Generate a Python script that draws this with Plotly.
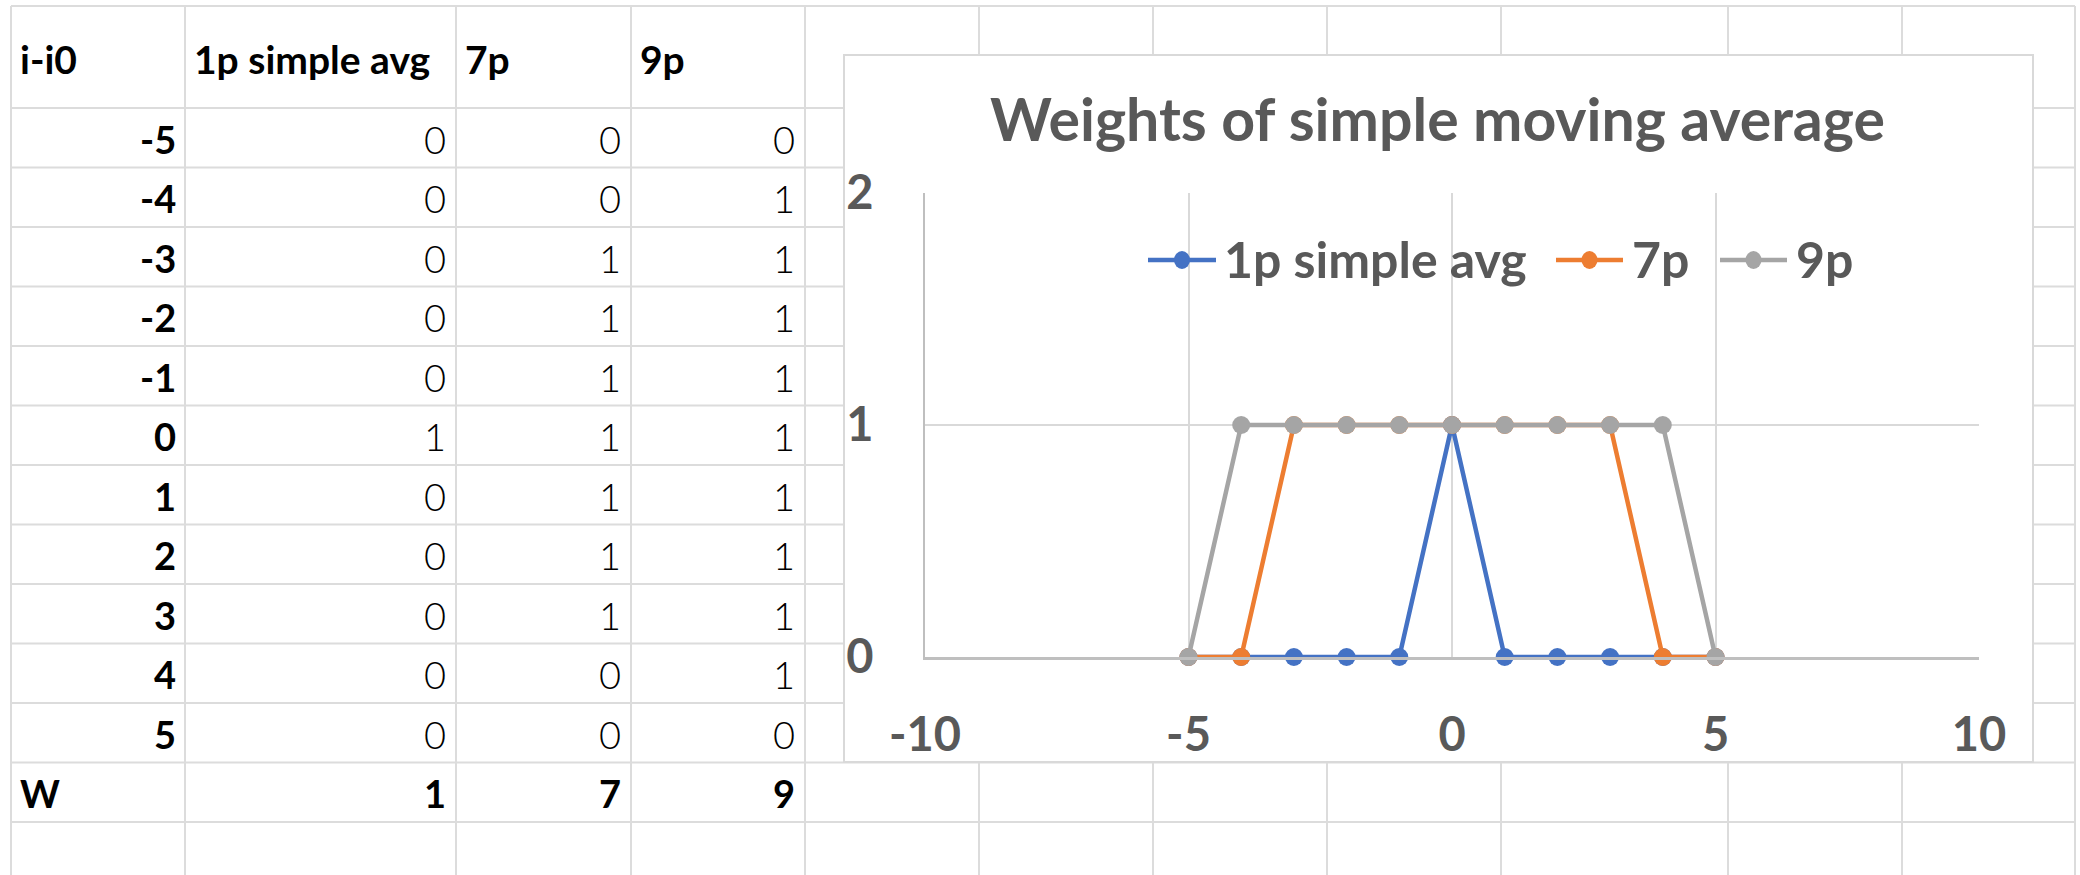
import plotly.graph_objects as go

# ---------------- data ----------------
offsets = [-5, -4, -3, -2, -1, 0, 1, 2, 3, 4, 5]
series_names = ["1p simple avg", "7p", "9p"]
w_1p = [0, 0, 0, 0, 0, 1, 0, 0, 0, 0, 0]
w_7p = [0, 0, 1, 1, 1, 1, 1, 1, 1, 0, 0]
w_9p = [0, 1, 1, 1, 1, 1, 1, 1, 1, 1, 0]
header_first = "i-i0"
total_label = "W"
title_text = "Weights of simple moving average"
x_ticks = [-10, -5, 0, 5, 10]
y_ticks = [0, 1, 2]

series_values = [w_1p, w_7p, w_9p]
colors = ["#4472C4", "#ED7D31", "#A5A5A5"]

# ---------------- layout geometry (pixels) ----------------
W, H = 2080, 875
PL, PR, PT, PB = 925, 1979, 193, 657


def px(x):
    return (x - PL) / (PR - PL)


def py(y):
    return (PB - y) / (PB - PT)


col_x = [11, 185, 456, 631, 805, 979, 1153, 1327, 1501, 1728, 1902, 2075]
row_y = [6, 108] + [108 + 59.5 * k for k in range(1, 13)]
GRID = "#DCDCDC"

shapes = []
for x in col_x:
    shapes.append(dict(type="line", xref="paper", yref="paper",
                       x0=px(x), x1=px(x), y0=py(row_y[0]), y1=py(H + 5),
                       line=dict(color=GRID, width=2), layer="below"))
for y in row_y:
    shapes.append(dict(type="line", xref="paper", yref="paper",
                       x0=px(col_x[0]), x1=px(col_x[-1]), y0=py(y), y1=py(y),
                       line=dict(color=GRID, width=2), layer="below"))
# chart box
shapes.append(dict(type="rect", xref="paper", yref="paper",
                   x0=px(844), x1=px(2033), y0=py(55), y1=py(762),
                   fillcolor="white", line=dict(color="#D9D9D9", width=2),
                   layer="below"))

annotations = []
FONT = "Lato, Carlito, Calibri, sans-serif"


def cell_text(text, x, y, anchor, bold, size):
    annotations.append(dict(
        text=str(text), xref="paper", yref="paper", x=px(x), y=py(y),
        xanchor=anchor, yanchor="middle", showarrow=False,
        font=dict(family=FONT, size=size, color="#000000",
                  weight=700 if bold else 300)))


def row_center(i):
    return (row_y[i] + row_y[i + 1]) / 2


# header row
hdr = [header_first] + series_names
for j, t in enumerate(hdr):
    cell_text(t, col_x[j] + 7, row_center(0) + 2, "left", True, 39)

# body rows
for k, off in enumerate(offsets):
    yc = row_center(k + 1) + 1
    cell_text(off, col_x[1] - 7, yc, "right", True, 38)
    for j, vals in enumerate(series_values):
        cell_text(vals[k], col_x[j + 2] - 8, yc, "right", False, 38)

# total row
yc = row_center(len(offsets) + 1) + 1
cell_text(total_label, col_x[0] + 7, yc, "left", True, 38)
for j, vals in enumerate(series_values):
    cell_text(sum(vals), col_x[j + 2] - 8, yc, "right", True, 38)

# chart title
annotations.append(dict(
    text=title_text, xref="paper", yref="paper", x=px(1437), y=py(118),
    xanchor="center", yanchor="middle", showarrow=False,
    font=dict(family=FONT, size=59, color="#595959", weight=700)))

# custom legend
leg_y = 260
leg_items = [(1148, 1216, 1222), (1556, 1623, 1630), (1720, 1787, 1794)]
for (lx0, lx1, tx), name, c in zip(leg_items, series_names, colors):
    shapes.append(dict(type="line", xref="paper", yref="paper",
                       x0=px(lx0), x1=px(lx1), y0=py(leg_y), y1=py(leg_y),
                       line=dict(color=c, width=4.5), layer="above"))
    cx = (lx0 + lx1) / 2
    shapes.append(dict(type="circle", xref="paper", yref="paper",
                       x0=px(cx - 8), x1=px(cx + 8),
                       y0=py(leg_y + 9), y1=py(leg_y - 9),
                       fillcolor=c, line=dict(color=c, width=0), layer="above"))
    annotations.append(dict(
        text=name, xref="paper", yref="paper", x=px(tx), y=py(leg_y - 1),
        xanchor="left", yanchor="middle", showarrow=False,
        font=dict(family=FONT, size=50, color="#595959", weight=700)))

# ---------------- figure ----------------
fig = go.Figure()
for name, vals, c in zip(series_names, series_values, colors):
    fig.add_trace(go.Scatter(
        x=offsets, y=vals, name=name, mode="lines+markers",
        line=dict(color=c, width=4.5),
        marker=dict(color=c, size=18, line=dict(width=0)),
        showlegend=False, cliponaxis=False))

fig.update_layout(
    width=W, height=H,
    margin=dict(l=PL, r=W - PR, t=PT, b=H - PB, autoexpand=False),
    paper_bgcolor="white", plot_bgcolor="rgba(0,0,0,0)",
    shapes=shapes, annotations=annotations, showlegend=False,
    font=dict(family=FONT),
)
fig.update_xaxes(
    range=[-10, 10], tickvals=x_ticks, ticktext=[str(v) for v in x_ticks],
    showgrid=True, gridcolor="#D9D9D9", gridwidth=2,
    zeroline=False, showline=True, linecolor="#BFBFBF", linewidth=3,
    ticks="", ticklabelstandoff=35,
    tickfont=dict(family=FONT, size=47, color="#595959", weight=700),
)
fig.update_yaxes(
    range=[0, 2], tickvals=y_ticks, ticktext=[str(v) for v in y_ticks],
    showgrid=True, gridcolor="#D9D9D9", gridwidth=2,
    zeroline=False, showline=True, linecolor="#BFBFBF", linewidth=2,
    ticks="", ticklabelstandoff=40,
    tickfont=dict(family=FONT, size=47, color="#595959", weight=700),
)

fig.write_html("out.html")
